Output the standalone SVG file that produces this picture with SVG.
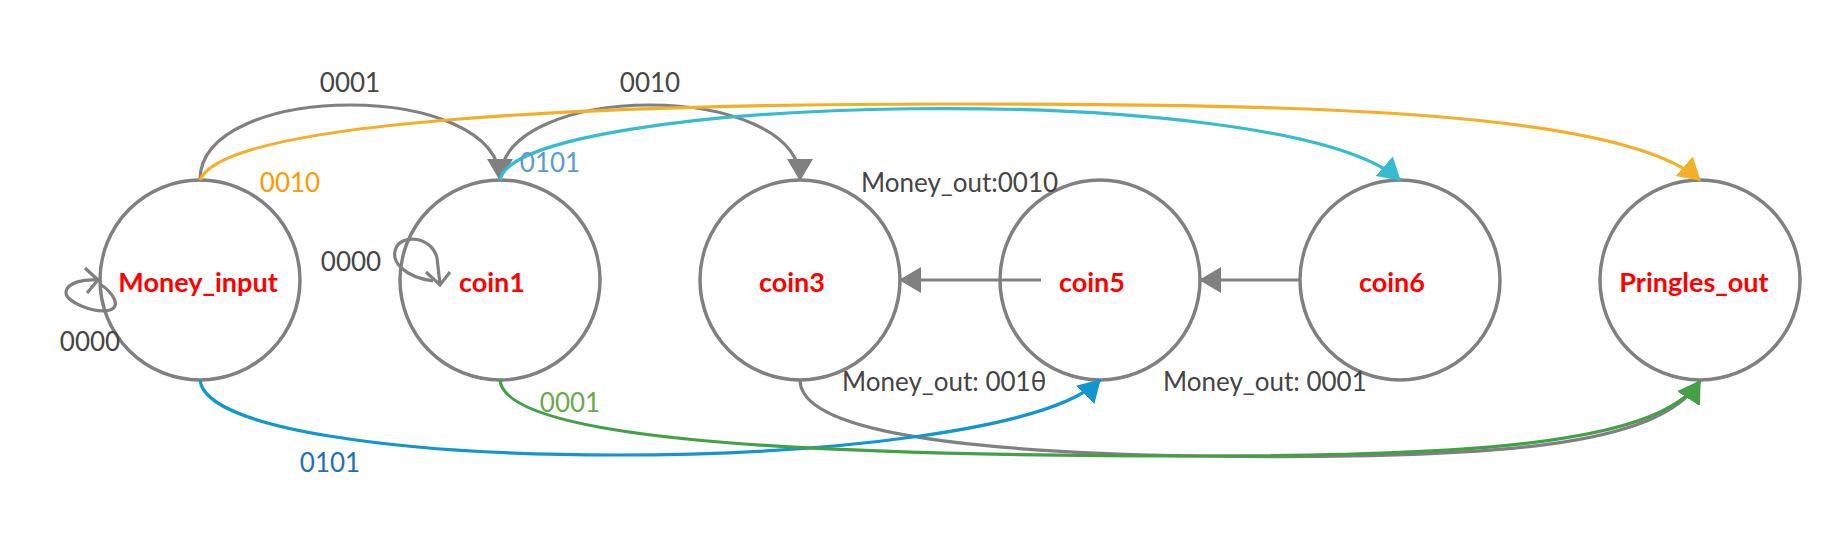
<svg xmlns="http://www.w3.org/2000/svg" width="1840" height="540" viewBox="0 0 1840 540">
<style>
.node ellipse{fill:#fff;stroke:#808080;stroke-width:3.5}
.node text{font-family:Lato,"Liberation Sans",sans-serif;font-size:27px;font-weight:bold;fill:#ff0000;text-anchor:middle}
.edge{fill:none;stroke-width:3.2}
.g{stroke:#808080}
.o{stroke:#f2b02a}
.c{stroke:#35bccf}
.b{stroke:#1296d0}
.gr{stroke:#43a047}
.lbl{font-family:Lato,"Liberation Sans",sans-serif;font-size:26px;fill:#454545}
.mid{text-anchor:middle}
</style>
<defs>
<marker id="aG" markerUnits="userSpaceOnUse" markerWidth="24" markerHeight="28" refX="21" refY="13" orient="auto"><path d="M0,0 L22,13 L0,26 Z" fill="#808080"/></marker>
<marker id="aO" markerUnits="userSpaceOnUse" markerWidth="24" markerHeight="28" refX="21" refY="13" orient="auto"><path d="M0,0 L22,13 L0,26 Z" fill="#f2b02a"/></marker>
<marker id="aC" markerUnits="userSpaceOnUse" markerWidth="24" markerHeight="28" refX="21" refY="13" orient="auto"><path d="M0,0 L22,13 L0,26 Z" fill="#35bccf"/></marker>
<marker id="aB" markerUnits="userSpaceOnUse" markerWidth="24" markerHeight="28" refX="21" refY="13" orient="auto"><path d="M0,0 L22,13 L0,26 Z" fill="#1296d0"/></marker>
<marker id="aGr" markerUnits="userSpaceOnUse" markerWidth="24" markerHeight="28" refX="21" refY="13" orient="auto"><path d="M0,0 L22,13 L0,26 Z" fill="#43a047"/></marker>
</defs>
<rect width="1840" height="540" fill="#fff"/>
<g id="Money_input" class="node"><ellipse cx="200" cy="280" rx="100" ry="100"/><text x="198" y="292">Money_input</text></g>
<g id="coin1" class="node"><ellipse cx="500" cy="280" rx="100" ry="100"/><text x="492" y="292">coin1</text></g>
<g id="coin3" class="node"><ellipse cx="800" cy="280" rx="100" ry="100"/><text x="792" y="292">coin3</text></g>
<g id="coin5" class="node"><ellipse cx="1100" cy="280" rx="100" ry="100"/><text x="1092" y="292">coin5</text></g>
<g id="coin6" class="node"><ellipse cx="1400" cy="280" rx="100" ry="100"/><text x="1392" y="292">coin6</text></g>
<g id="Pringles_out" class="node"><ellipse cx="1700" cy="280" rx="100" ry="100"/><text x="1694" y="292">Pringles_out</text></g>
<g id="connectors">
<path class="edge g" d="M100,284 C112,292 122,306 110,310 C95,314 65,302 66,292 C67,282 85,279 98,280"/>
<path class="edge g" d="M85,268 L98,280 L87,293"/>
<path class="edge g" d="M433,281 C405,277 390,262 396,248 C402,234 432,236 437,258 L440,284"/>
<path class="edge g" d="M426,272 L440,285 L450,272"/>
<path class="edge g" d="M200,180 C200,80 500,80 500,180" marker-end="url(#aG)"/>
<path class="edge g" d="M500,180 C500,80 800,80 800,180" marker-end="url(#aG)"/>
<path class="edge g" d="M1041,280 L900,280" marker-end="url(#aG)"/>
<path class="edge g" d="M1300,280 L1200,280" marker-end="url(#aG)"/>
<path class="edge g" d="M800,380 C800,430 950,452 1200,456 C1500,460 1660,446 1700,381" marker-end="url(#aG)"/>
<path class="edge o" d="M200,180 C225,120 600,104 950,104 C1300,104 1620,110 1700,180" marker-end="url(#aO)"/>
<path class="edge c" d="M500,180 C515,95 1280,75 1400,180" marker-end="url(#aC)"/>
<path class="edge b" d="M200,380 C210,480 1000,480 1100,380" marker-end="url(#aB)"/>
<path class="edge gr" d="M500,380 C505,440 800,456 1200,456 C1500,456 1660,440 1700,381" marker-end="url(#aGr)"/>
</g>
<g id="labels">
<text class="lbl mid" x="350" y="92">0001</text>
<text class="lbl mid" x="650" y="92">0010</text>
<text class="lbl mid" x="290" y="192" style="fill:#ff9900">0010</text>
<text class="lbl mid" x="550" y="172" style="fill:#5b9bd5">0101</text>
<text class="lbl mid" x="351" y="271">0000</text>
<text class="lbl mid" x="90" y="351">0000</text>
<text class="lbl mid" x="570" y="412" style="fill:#6aa84f">0001</text>
<text class="lbl mid" x="330" y="472" style="fill:#1f6fbf">0101</text>
<text class="lbl" x="861" y="192">Money_out:0010</text>
<text class="lbl" x="842" y="391">Money_out: 001θ</text>
<text class="lbl" x="1163" y="391">Money_out: 0001</text>
</g>
</svg>
